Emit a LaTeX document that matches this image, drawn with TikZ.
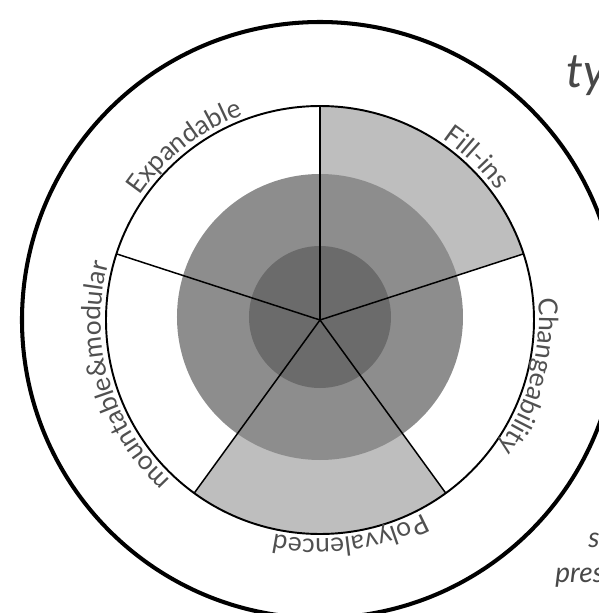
\documentclass[tikz,border=0pt]{standalone}
\usepackage{fontspec}
\setmainfont{Lato}
\usepackage{xcolor}
\usepackage{tikz}
\usetikzlibrary{decorations.text}

\definecolor{lightsec}{HTML}{BEBEBE}
\definecolor{midring}{HTML}{8D8D8D}
\definecolor{innerring}{HTML}{6B6B6B}
\definecolor{labelgray}{HTML}{505050}
\newcommand{\labelfont}{\fontsize{15}{18}\selectfont\color{labelgray}}
\newcommand{\cutfont}{\fontsize{16}{19}\selectfont\itshape\color{labelgray!90!black}}
\newcommand{\bigcutfont}{\fontsize{27}{32}\selectfont\itshape\color{labelgray!90!black}}

\tikzset{
	arclabel/.style={decorate,
		decoration={text along path, text align=center, text={|\labelfont|#1}}},
}

\begin{document}
\begin{tikzpicture}[x=0.02cm,y=0.02cm]
		\useasboundingbox (-320,-293) rectangle (279,320);
		\clip (-320,-293) rectangle (279,320);
		%
		\fill[lightsec] (0,0) -- (90:214) arc[start angle=90,end angle=18,radius=214] -- cycle;
		\fill[lightsec] (0,0) -- (-54:214) arc[start angle=-54,end angle=-126,radius=214] -- cycle;
		\fill[midring] (0,3) circle[radius=143];
		\fill[innerring] (0,3) circle[radius=71];
		%
		\foreach \a in {90,18,-54,-126,162}
			\draw[line width=0.85pt] (0,0) -- (\a:214);
		\draw[line width=1.1pt] (0,0) circle[radius=214];
		\draw[line width=2.3pt] (0,0) circle[radius=298];
		%
		\path[arclabel={Expandable}] (168:219) arc[start angle=168,end angle=88,radius=219];
		\path[arclabel={Fill-ins}] (86:219) arc[start angle=86,end angle=6,radius=219];
		\path[arclabel={Changeability}] (25:219) arc[start angle=25,end angle=-55,radius=219];
		\path[arclabel={Polyvalenced}] (-42:219) arc[start angle=-42,end angle=-122,radius=219];
		\path[arclabel={mountable{\&}modular}] (240:219) arc[start angle=240,end angle=152,radius=219];
		%
		\node[anchor=base west,inner sep=0pt,font=\bigcutfont] (ty) at (246,233) {ty};
		\node[anchor=base west,inner sep=0pt,font=\cutfont] (s) at (268,-227) {s};
		\node[anchor=base west,inner sep=0pt,font=\cutfont] (pres) at (235,-262) {pres};
	\end{tikzpicture}
\end{document}
